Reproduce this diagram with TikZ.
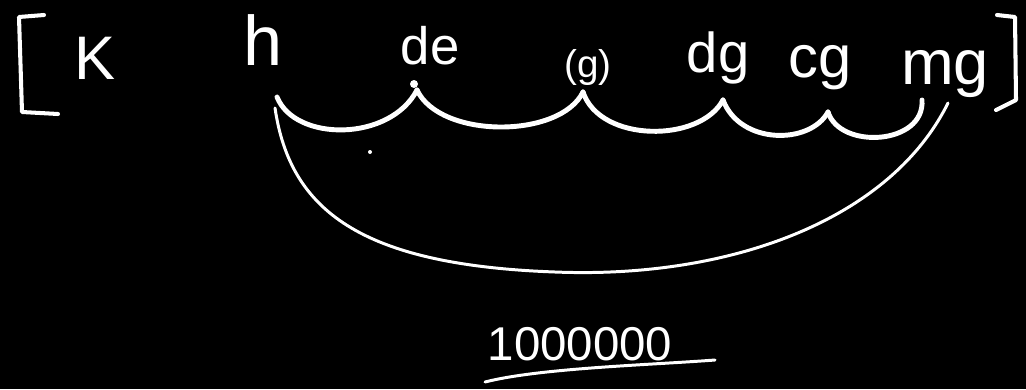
\documentclass[tikz,border=0pt]{standalone}
\usepackage{fontspec}
\setmainfont{Liberation Sans}
\begin{document}
\begin{tikzpicture}[x=0.02cm,y=-0.02cm,
  lbl/.style={text=white, inner sep=0pt, anchor=center},
  pen/.style={draw=white, line width=2.8pt, line cap=round, line join=round},
  thin pen/.style={draw=white, line width=1.7pt, line cap=round, line join=round},
  brk/.style={draw=white, line width=2.3pt, line cap=round, line join=round}]
\fill[black] (0,0) rectangle (1026,389);
\useasboundingbox (0,0) rectangle (1026,389);
% brackets
\draw[brk] (44,15) -- (19,17) -- (22,112) -- (58,114);
\draw[brk] (997,15) -- (1015,17) -- (1016,100) -- (996,110);
% labels
\node[lbl, font=\fontsize{35}{40}\selectfont] (k) at (95,58) {K};
\node[lbl, font=\fontsize{40}{46}\selectfont] (h) at (263,40) {h};
\node[lbl, font=\fontsize{30}{34}\selectfont] (de) at (430,46) {de};
\node[lbl, font=\fontsize{22}{26}\selectfont] (g) at (588,68) {(g)};
\node[lbl, font=\fontsize{32}{36}\selectfont] (dg) at (718,58) {dg};
\node[lbl, font=\fontsize{34}{38}\selectfont] (cg) at (820,68) {cg};
\node[lbl, font=\fontsize{36}{40}\selectfont] (mg) at (945,74) {mg};
\node[lbl, font=\fontsize{27}{30}\selectfont] (num) at (580,344) {1000000};
% cusp points
\coordinate (p0) at (277,97);
\coordinate (p1) at (417,90);
\coordinate (p2) at (583,92);
\coordinate (p3) at (723,100);
\coordinate (p4) at (828,112);
\coordinate (p5) at (922,100);
\coordinate (q0) at (275,108);
\coordinate (qm) at (555,272);
\coordinate (q1) at (948,103);
\coordinate (u0) at (485,382);
\coordinate (u1) at (715,360);
% scallops
\draw[pen] (p0) .. controls (295,142) and (390,142) .. (p1);
\draw[pen] (p1) .. controls (440,139) and (560,139) .. (p2);
\draw[pen] (p2) .. controls (600,143) and (700,143) .. (p3);
\draw[pen] (p3) .. controls (740,145) and (810,145) .. (p4);
\draw[pen] (p4) .. controls (840,150) and (925,145) .. (p5);
\fill[white] (414,84) circle (4);
% big arc
\draw[thin pen] (q0) .. controls (290,210) and (360,265) .. (qm)
  .. controls (730,279) and (890,220) .. (q1);
% stray dot
\fill[white] (370,152) circle (2);
% underline
\draw[thin pen] (u0) .. controls (540,368) and (650,365) .. (u1);
\end{tikzpicture}
\end{document}
